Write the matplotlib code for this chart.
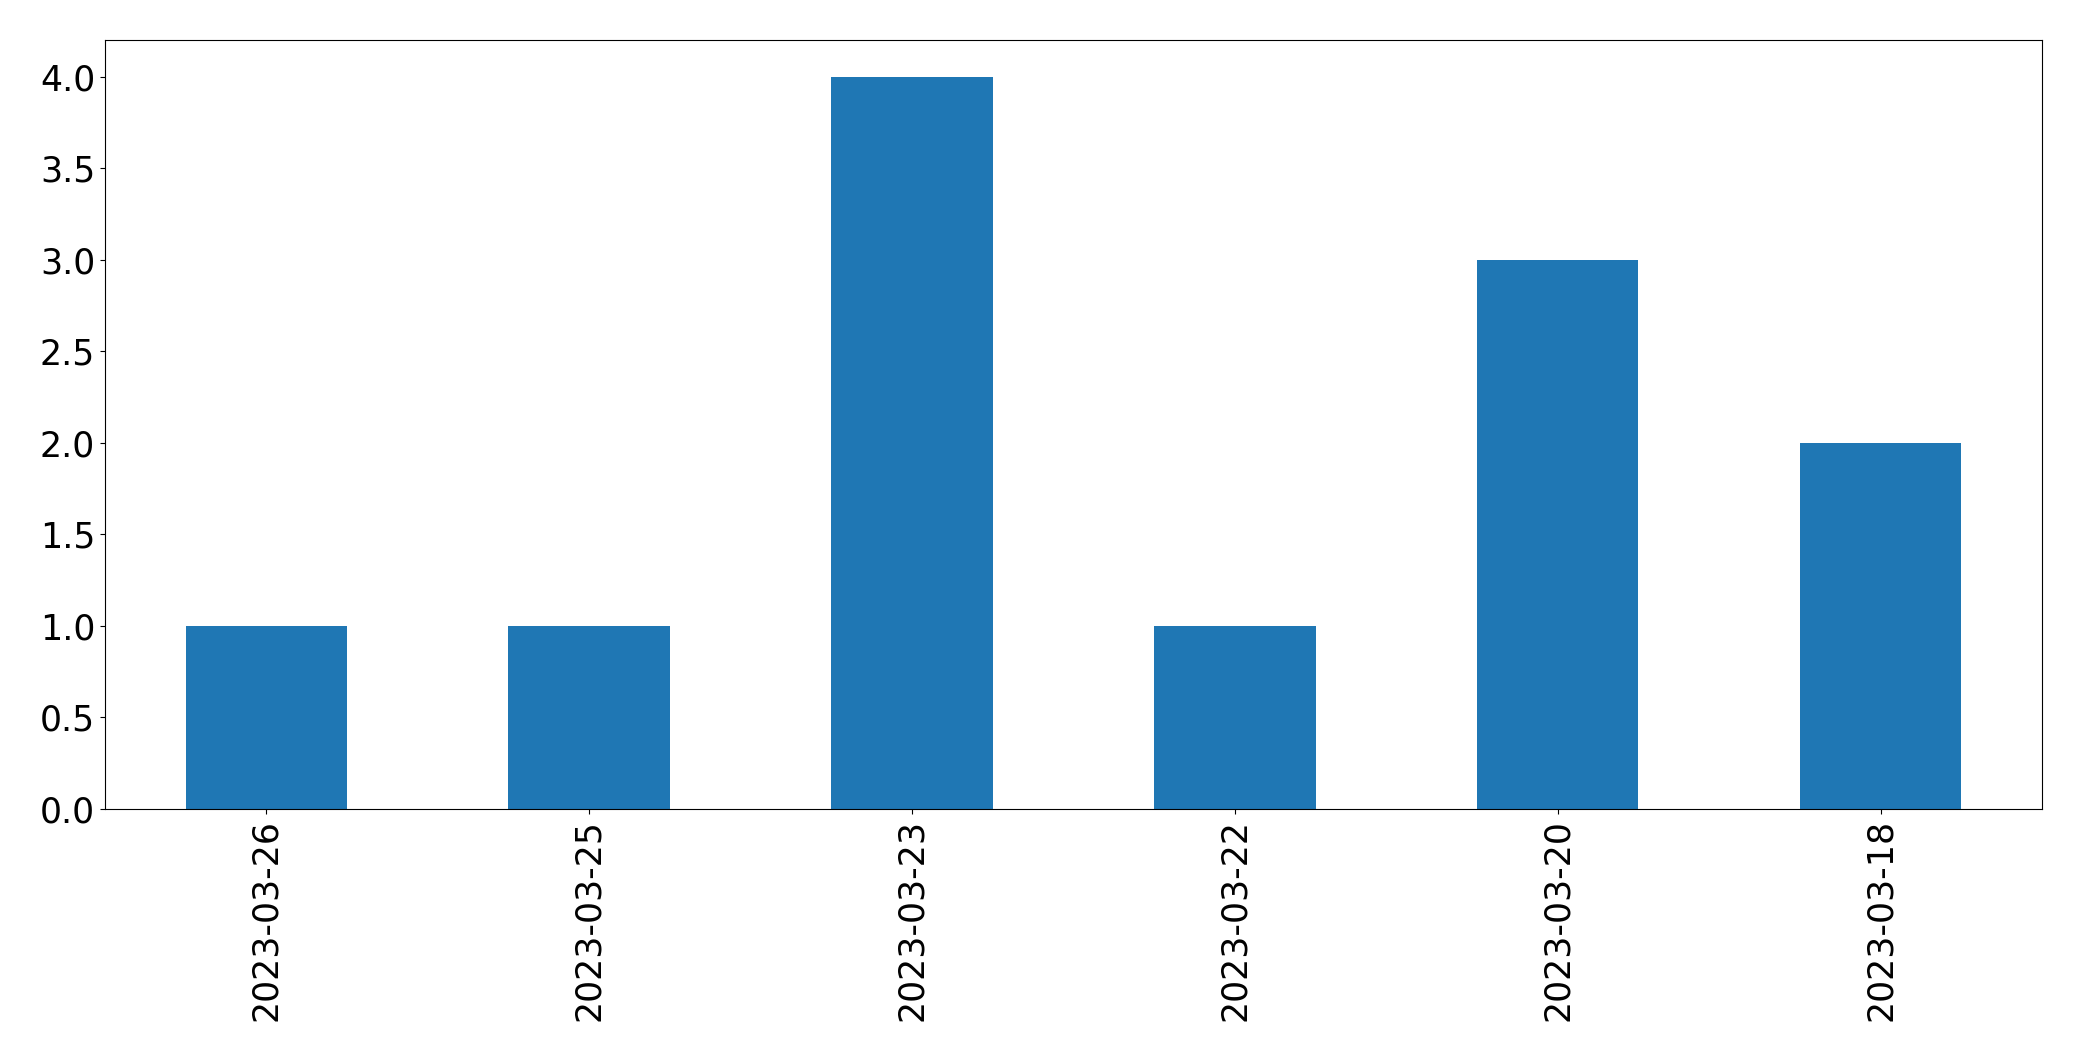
import matplotlib
matplotlib.use('Agg')
import matplotlib.pyplot as plt
import pandas as pd

dates = ['2023-03-26', '2023-03-25', '2023-03-23', '2023-03-22', '2023-03-20', '2023-03-18']
counts = [1, 1, 4, 1, 3, 2]

s = pd.Series(counts, index=dates)

fig, ax = plt.subplots(figsize=(20.82, 10.61), dpi=100)
s.plot(kind='bar', ax=ax, color='#1f77b4', fontsize=25)
ax.tick_params(axis='both', labelsize=25)

fig.subplots_adjust(left=0.0504, right=0.9808, top=0.9623, bottom=0.2375)
fig.savefig('out.png', dpi=100)
